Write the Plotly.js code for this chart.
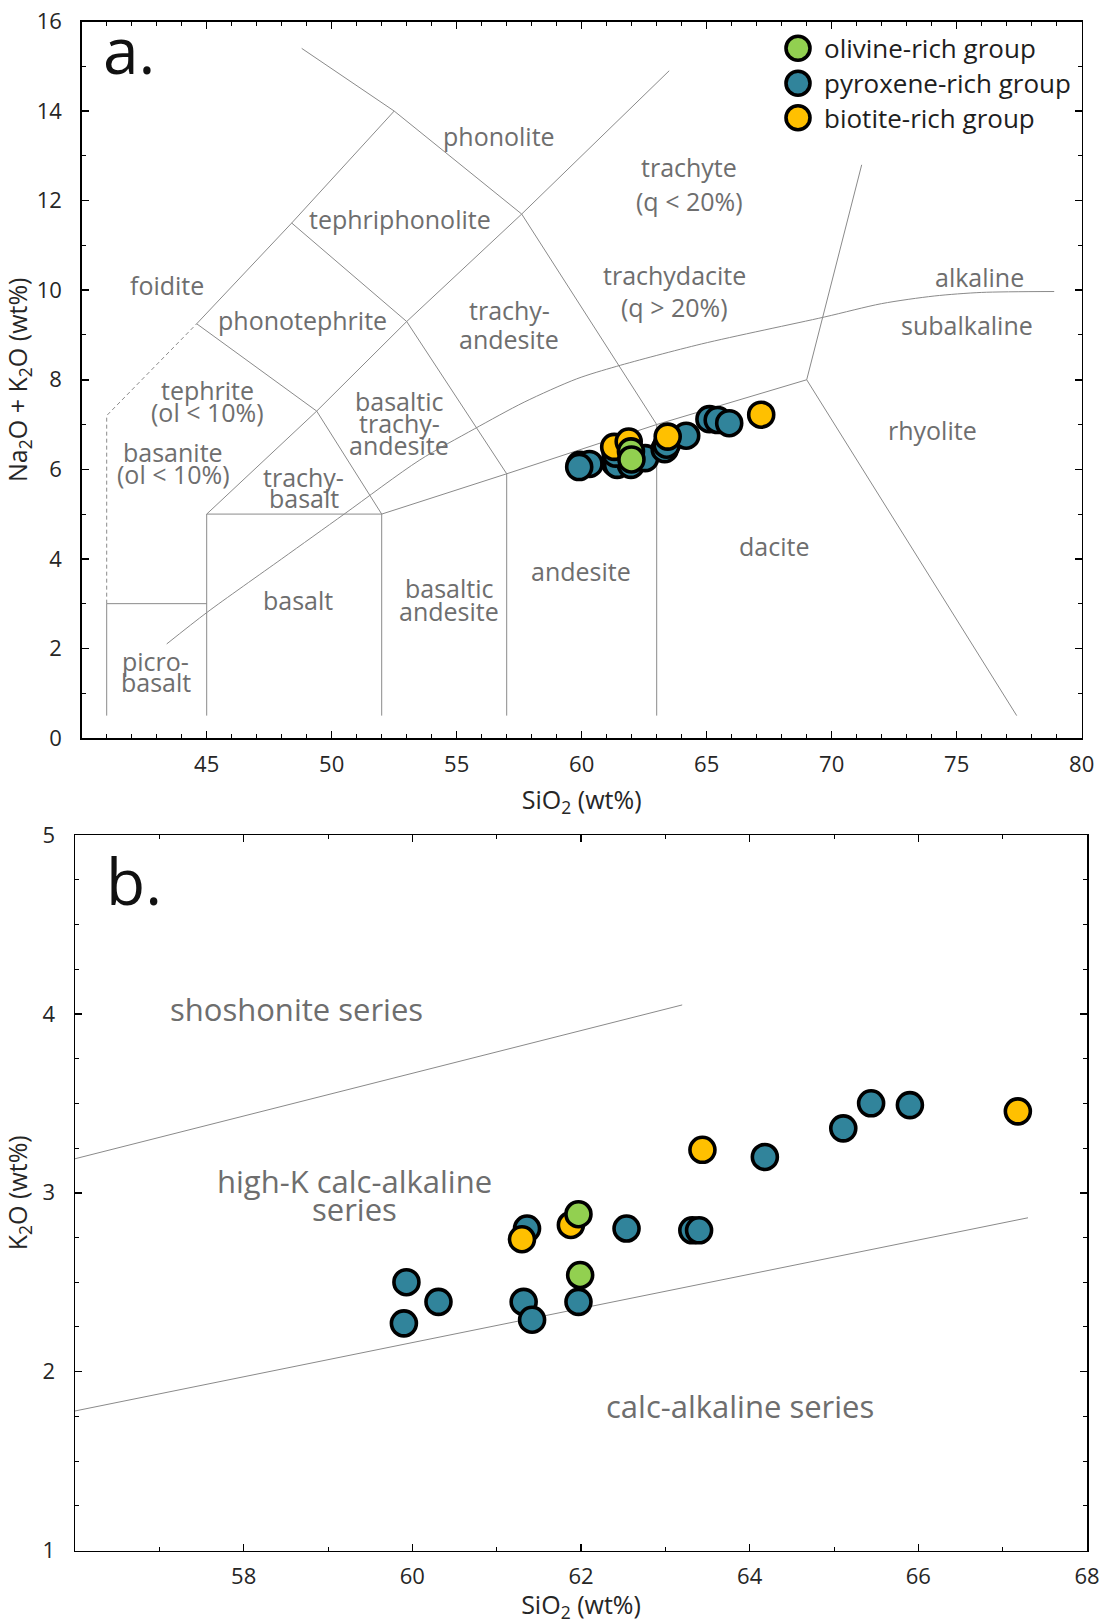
<!DOCTYPE html>
<html>
<head>
<meta charset="utf-8">
<script src="https://cdn.plot.ly/plotly-3.0.1.min.js"></script>
<style>html,body{margin:0;padding:0;background:#fff}</style>
</head>
<body>
<div id="chart" style="width:1101px;height:1624px"></div>
<script>
// ---- sample data: SiO2, total alkali (TAS) and K2O, by petrographic group ----
const olivineSiO2 = [61.97, 61.99];
const olivineAlk  = [6.40, 6.22];
const olivineK2O  = [2.88, 2.54];

const pyroxeneSiO2 = [59.93, 60.31, 59.90, 61.32, 61.42, 61.97, 61.36, 62.54, 63.32, 63.40, 64.18, 65.11, 65.44, 65.90];
const pyroxeneAlk  = [6.10, 6.12, 6.05, 6.15, 6.10, 6.10, 6.35, 6.25, 6.45, 6.55, 6.75, 7.12, 7.10, 7.03];
const pyroxeneK2O  = [2.50, 2.39, 2.27, 2.39, 2.29, 2.39, 2.80, 2.80, 2.79, 2.79, 3.20, 3.36, 3.50, 3.49];

const biotiteSiO2 = [61.30, 61.88, 63.44, 67.18];
const biotiteAlk  = [6.50, 6.62, 6.73, 7.22];
const biotiteK2O  = [2.74, 2.82, 3.24, 3.455];

const groupNames  = ["olivine-rich group", "pyroxene-rich group", "biotite-rich group"];
const groupColors = ["#92D050", "#31849B", "#FFC000"];

// ---- TAS field boundaries (SiO2, Na2O+K2O) ----
const tasSolid = [
  [[41,0.5],[41,3],[45,3]],
  [[45,0.5],[45,5],[52,5],[52,0.5]],
  [[52,5],[57,5.9],[63,7],[69,8],[77.4,0.5]],
  [[57,0.5],[57,5.9]],
  [[63,0.5],[63,7]],
  [[69,8],[71.2,12.8]],
  [[45,5],[49.4,7.3],[52,5]],
  [[49.4,7.3],[53,9.3],[57,5.9]],
  [[53,9.3],[57.6,11.7],[63,7]],
  [[44.6,9.25],[49.4,7.3]],
  [[44.6,9.25],[48.4,11.5],[53,9.3]],
  [[48.4,11.5],[52.5,14],[57.6,11.7]],
  [[52.5,14],[48.8,15.4]],
  [[57.6,11.7],[63.5,14.9]]
];
const tasDashed = [[41,3],[41,7.2],[44.6,9.25]];

// Alkaline / subalkaline divide
const alkDivideSiO2 = [43.4, 45, 48, 50.5, 53.5, 55.7, 57.7, 59.8, 61.4, 64.8, 69.7, 72, 74.1, 76, 78.9];
const alkDivideAlk  = [2.1, 2.8, 4.0, 5.0, 6.2, 6.9, 7.5, 8.02, 8.3, 8.8, 9.4, 9.7, 9.87, 9.95, 9.97];

// K2O–SiO2 series boundaries
const shoDivideSiO2 = [56, 63.2];
const shoDivideK2O  = [3.19, 4.05];
const hkDivideSiO2  = [56, 67.3];
const hkDivideK2O   = [1.78, 2.86];

// ---- field names ----
const tasLabels = [
  ["foidite", 43.4, 10.12], ["phonolite", 56.7, 13.44], ["tephriphonolite", 52.75, 11.58],
  ["trachyte", 64.3, 12.75], ["(q < 20%)", 64.3, 12.0],
  ["trachydacite", 63.7, 10.35], ["(q > 20%)", 63.7, 9.63],
  ["phonotephrite", 48.84, 9.33], ["trachy-", 57.1, 9.56], ["andesite", 57.1, 8.92],
  ["alkaline", 75.9, 10.29], ["subalkaline", 75.4, 9.23],
  ["tephrite", 45.04, 7.78], ["(ol < 10%)", 45.04, 7.28],
  ["basaltic", 52.7, 7.52], ["trachy-", 52.7, 7.03], ["andesite", 52.7, 6.54],
  ["rhyolite", 74.05, 6.88],
  ["basanite", 43.67, 6.39], ["(ol < 10%)", 43.67, 5.9],
  ["trachy-", 48.89, 5.82], ["basalt", 48.89, 5.37],
  ["dacite", 67.69, 4.29], ["andesite", 59.97, 3.73],
  ["basaltic", 54.7, 3.34], ["andesite", 54.7, 2.83],
  ["basalt", 48.67, 3.09],
  ["picro-", 42.97, 1.73], ["basalt", 42.97, 1.24]
];
const seriesLabels = [
  ["shoshonite series", 58.63, 4.03],
  ["high-K calc-alkaline", 59.32, 3.065], ["series", 59.32, 2.91],
  ["calc-alkaline series", 63.88, 1.81]
];

// ---- helpers ----
const W = 1101, H = 1624;
const px = v => v / W;
const py = v => 1 - v / H;
const FONT = "Open Sans, DejaVu Sans, sans-serif";
const LABEL_GREY = "#6e6e6e";
const LINE_GREY = "#8a8a8a";
const TEXT_DARK = "#262626";

function joinPolylines(lines) {
  const xs = [], ys = [];
  lines.forEach((pts, i) => {
    if (i > 0) { xs.push(null); ys.push(null); }
    pts.forEach(p => { xs.push(p[0]); ys.push(p[1]); });
  });
  return {x: xs, y: ys};
}

const solid = joinPolylines(tasSolid);
const traces = [
  {x: solid.x, y: solid.y, xaxis: "x", yaxis: "y", mode: "lines", hoverinfo: "skip",
   line: {color: LINE_GREY, width: 1}, showlegend: false},
  {x: tasDashed.map(p => p[0]), y: tasDashed.map(p => p[1]), xaxis: "x", yaxis: "y",
   mode: "lines", hoverinfo: "skip", line: {color: LINE_GREY, width: 1, dash: "4px,3px"}, showlegend: false},
  {x: alkDivideSiO2, y: alkDivideAlk, xaxis: "x", yaxis: "y", mode: "lines", hoverinfo: "skip",
   line: {color: LINE_GREY, width: 1, shape: "spline", smoothing: 0.8}, showlegend: false},
  {x: shoDivideSiO2, y: shoDivideK2O, xaxis: "x2", yaxis: "y2", mode: "lines", hoverinfo: "skip",
   line: {color: LINE_GREY, width: 1}, showlegend: false},
  {x: hkDivideSiO2, y: hkDivideK2O, xaxis: "x2", yaxis: "y2", mode: "lines", hoverinfo: "skip",
   line: {color: LINE_GREY, width: 1}, showlegend: false}
];

const groups = [
  {name: groupNames[1], color: groupColors[1], si: pyroxeneSiO2, alk: pyroxeneAlk, k: pyroxeneK2O},
  {name: groupNames[2], color: groupColors[2], si: biotiteSiO2, alk: biotiteAlk, k: biotiteK2O},
  {name: groupNames[0], color: groupColors[0], si: olivineSiO2, alk: olivineAlk, k: olivineK2O}
];
groups.forEach(g => {
  const marker = {size: 25, color: g.color, line: {color: "#000", width: 3.6}};
  traces.push({x: g.si, y: g.alk, xaxis: "x", yaxis: "y", mode: "markers", name: g.name,
               marker: marker, showlegend: false});
  traces.push({x: g.si, y: g.k, xaxis: "x2", yaxis: "y2", mode: "markers", name: g.name,
               marker: marker, showlegend: false});
});

const annotations = [];
tasLabels.forEach(l => annotations.push({
  text: l[0], x: l[1], y: l[2], xref: "x", yref: "y", showarrow: false,
  xanchor: "center", yanchor: "middle", font: {family: FONT, size: 25, color: LABEL_GREY}
}));
seriesLabels.forEach(l => annotations.push({
  text: l[0], x: l[1], y: l[2], xref: "x2", yref: "y2", showarrow: false,
  xanchor: "center", yanchor: "middle", font: {family: FONT, size: 31, color: LABEL_GREY}
}));
// panel letters
annotations.push({text: "a.", x: px(101), y: py(50), xref: "paper", yref: "paper", showarrow: false,
  xanchor: "left", yanchor: "middle", font: {family: FONT, size: 64, color: "#111"}});
annotations.push({text: "b.", x: px(104), y: py(880), xref: "paper", yref: "paper", showarrow: false,
  xanchor: "left", yanchor: "middle", font: {family: FONT, size: 64, color: "#111"}});

// legend
const shapes = [];
const legendRows = [48.3, 83.3, 117.7];
groupNames.forEach((n, i) => {
  shapes.push({type: "circle", xref: "paper", yref: "paper", xsizemode: "pixel", ysizemode: "pixel",
    xanchor: px(798), yanchor: py(legendRows[i]), x0: -12, x1: 12, y0: -12, y1: 12,
    fillcolor: groupColors[i], line: {color: "#000", width: 3.6}});
  annotations.push({text: n, x: px(822), y: py(legendRows[i]), xref: "paper", yref: "paper",
    showarrow: false, xanchor: "left", yanchor: "middle", font: {family: FONT, size: 26, color: "#1e1e1e"}});
});

function axisStyle(extra) {
  return Object.assign({
    showline: true, linecolor: "#000", linewidth: 1.5, mirror: "ticks",
    ticks: "inside", ticklen: 7, tickwidth: 1.5, tickcolor: "#000",
    showgrid: false, zeroline: false, fixedrange: true,
    tickfont: {family: FONT, size: 22, color: TEXT_DARK},
    minor: {ticks: "inside", ticklen: 4, tickwidth: 1, tickcolor: "#000", tickmode: "linear", dtick: 1, tick0: 0}
  }, extra);
}

const layout = {
  width: W, height: H,
  margin: {l: 0, r: 0, t: 0, b: 0},
  paper_bgcolor: "#fff", plot_bgcolor: "#fff",
  showlegend: false,
  xaxis: axisStyle({domain: [px(81.7), px(1081.7)], range: [40, 80], anchor: "y",
    tickmode: "array", tickvals: [45, 50, 55, 60, 65, 70, 75, 80], ticklabelstandoff: 6,
    title: {text: "SiO<sub>2</sub> (wt%)", font: {family: FONT, size: 25, color: TEXT_DARK}, standoff: 14}}),
  yaxis: axisStyle({domain: [py(738), py(21.5)], range: [0, 16], anchor: "x",
    tickmode: "linear", tick0: 0, dtick: 2, ticklabelstandoff: 14,
    title: {text: "Na<sub>2</sub>O + K<sub>2</sub>O (wt%)", font: {family: FONT, size: 25, color: TEXT_DARK}, standoff: 12}}),
  xaxis2: axisStyle({domain: [px(75), px(1087)], range: [56, 68], anchor: "y2",
    tickmode: "array", tickvals: [58, 60, 62, 64, 66, 68], ticklabelstandoff: 6,
    title: {text: "SiO<sub>2</sub> (wt%)", font: {family: FONT, size: 25, color: TEXT_DARK}, standoff: 16}}),
  yaxis2: axisStyle({domain: [py(1550.5), py(835)], range: [1, 5], anchor: "x2",
    tickmode: "linear", tick0: 1, dtick: 1, ticklabelstandoff: 14,
    minor: {ticks: "inside", ticklen: 4, tickwidth: 1, tickcolor: "#000", tickmode: "linear", dtick: 0.25, tick0: 1},
    title: {text: "K<sub>2</sub>O (wt%)", font: {family: FONT, size: 25, color: TEXT_DARK}, standoff: 12}}),
  annotations: annotations,
  shapes: shapes
};

Plotly.newPlot("chart", traces, layout, {displayModeBar: false, staticPlot: true});
</script>
</body>
</html>
